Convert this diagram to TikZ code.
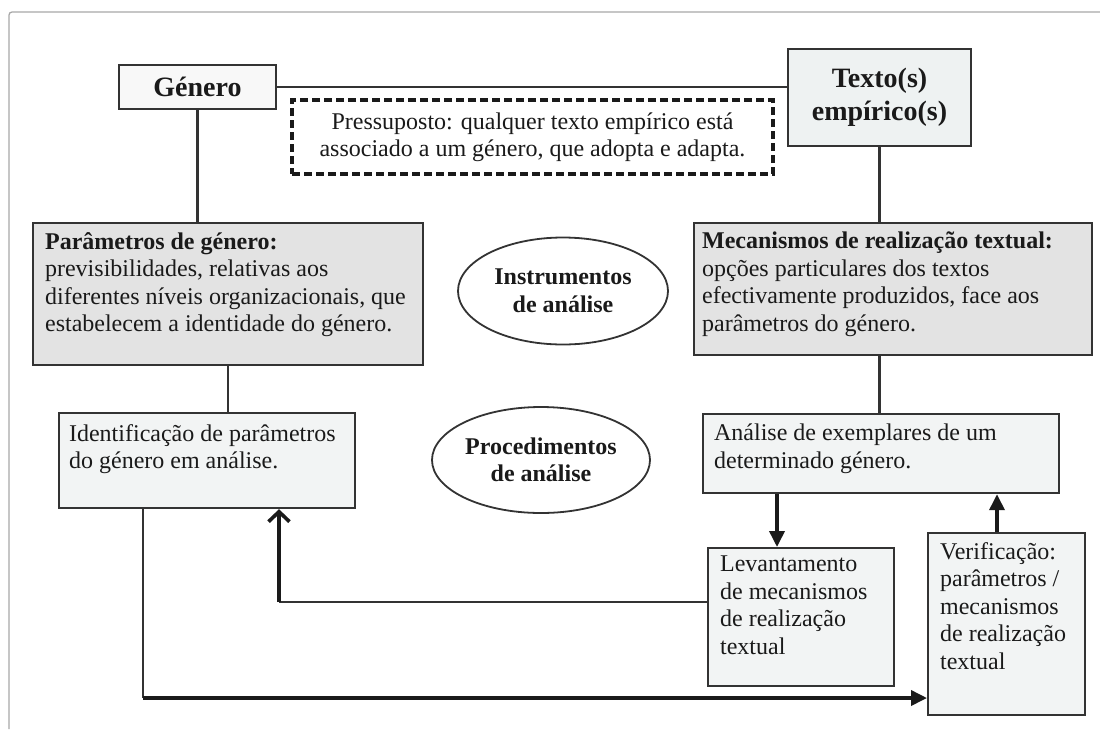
\documentclass[tikz,border=0pt]{standalone}
\usepackage{fontspec}
\setmainfont{Liberation Serif}
\usetikzlibrary{arrows.meta,shapes.geometric,calc}

\definecolor{edge}{HTML}{333333}
\definecolor{ink}{HTML}{1A1A1A}
\definecolor{paramfill}{HTML}{E3E3E3}
\definecolor{procfill}{HTML}{F2F4F4}
\definecolor{textfill}{HTML}{EEF2F2}
\definecolor{generofill}{HTML}{F8F8F8}
\definecolor{framegray}{HTML}{A8A8A8}

% top-aligned, ragged-right text block of fixed size
\newcommand{\boxtext}[3]{\parbox[c][#2][t]{#1}{\raggedright #3}}

\begin{document}
\begin{tikzpicture}[x=1pt,y=-1pt,
  every node/.style={text=ink},
  body/.style={font=\fontsize{24}{27.5}\selectfont},
  bodybf/.style={font=\fontsize{24}{27.5}\selectfont\bfseries},
  titlebf/.style={font=\fontsize{28}{33}\selectfont\bfseries},
  panel/.style={draw=edge, line width=2.2pt, anchor=north west, inner sep=0pt, body},
  oval/.style={ellipse, draw=edge, line width=1.8pt, fill=white, inner sep=0pt,
    align=center, bodybf},
  link/.style={draw=edge, line width=2.2pt},
  heavy/.style={draw=ink, line width=3.6pt},
  tip/.style={-{Triangle[length=16pt,width=15pt]}},
  barb/.style={-{Straight Barb[length=10pt,width=21pt]}}
]
\useasboundingbox (0,0) rectangle (1100,729);
\fill[white] (0,0) rectangle (1100,729);

% page frame
\draw[framegray, line width=1.3pt, rounded corners=3pt] (9,729) -- (9,12) -- (1100,12);

% upper row
\node[draw=edge, line width=2.2pt, fill=generofill, minimum width=157pt, minimum height=44pt,
  inner sep=0pt, titlebf] (genero) at (197.5,87) {Género};
\node[draw=edge, line width=2.2pt, fill=textfill, minimum width=183pt, minimum height=97pt,
  inner sep=0pt, align=center, titlebf] (texto) at (879.5,97.5) {Texto(s)\\empírico(s)};
\node[draw=ink, line width=3.2pt, dash pattern=on 8pt off 4pt, fill=white,
  minimum width=481pt, minimum height=74pt, inner sep=0pt, align=center, body]
  (pressuposto) at (532.5,137)
  {Pressuposto: qualquer texto empírico está\\associado a um género, que adopta e adapta.};

% instruments
\node[panel, fill=paramfill, inner xsep=12pt, inner ysep=9pt] (param) at (32,222)
  {\boxtext{366pt}{124pt}{\textbf{Parâmetros de género:}\\previsibilidades, relativas aos\\diferentes níveis organizacionais, que\\estabelecem a identidade do género.}};
\node[panel, fill=paramfill, inner xsep=8pt, inner ysep=9pt] (mecan) at (693,222)
  {\boxtext{382pt}{114pt}{\textbf{Mecanismos de realização textual:}\\opções particulares dos textos\\efectivamente produzidos, face aos\\parâmetros do género.}};
\node[oval, minimum width=210pt, minimum height=107pt] (instr) at (563,291)
  {Instrumentos\\de análise};

% procedures
\node[panel, fill=procfill, inner xsep=10pt, inner ysep=11pt] (ident) at (58,412)
  {\boxtext{276pt}{73pt}{Identificação de parâmetros\\do género em análise.}};
\node[panel, fill=procfill, inner xsep=11pt, inner ysep=10pt] (analise) at (702,413)
  {\boxtext{334pt}{59pt}{Análise de exemplares de um\\determinado género.}};
\node[oval, minimum width=218pt, minimum height=106pt] (proc) at (541,460)
  {Procedimentos\\de análise};
\node[panel, fill=procfill, inner xsep=12pt, inner ysep=8pt] (lev) at (707,547)
  {\boxtext{162pt}{122pt}{Levantamento\\de mecanismos\\de realização\\textual}};
\node[panel, fill=procfill, inner xsep=12pt, inner ysep=9pt] (verif) at (927,532)
  {\boxtext{133pt}{164pt}{Verificação:\\parâmetros /\\mecanismos\\de realização\\textual}};

% plain links
\draw[link] (genero.east) -- (genero.east -| texto.west);
\draw[link] (genero.south) -- (genero.south |- param.north);
\draw[link] (texto.south) -- (texto.south |- mecan.north);
\draw[link] (param.south) -- (param.south |- ident.north);
\draw[link] (texto.south |- mecan.south) -- (texto.south |- analise.north);

% analysis cycle
\draw[heavy, tip] ([xshift=75pt]analise.south west) -- ([xshift=75pt]analise.south west |- lev.north);
\draw[heavy, tip] ([xshift=70pt]verif.north west) -- ([xshift=70pt]verif.north west |- analise.south);

\coordinate (turnA) at (279,602);
\draw[link] (turnA -| lev.west) -- (turnA);
\draw[heavy, barb] (turnA) -- (turnA |- ident.south);

\coordinate (turnB) at (143,698);
\draw[link] (turnB |- ident.south) -- (turnB);
\draw[heavy, tip] (turnB) -- (turnB -| verif.west);
\end{tikzpicture}
\end{document}
